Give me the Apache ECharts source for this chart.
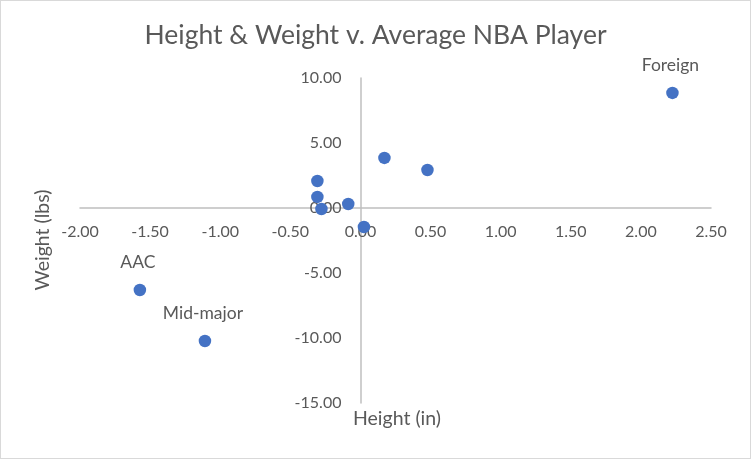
<!DOCTYPE html>
<html>
<head>
<meta charset="utf-8">
<script src="https://cdn.jsdelivr.net/npm/echarts@6/dist/echarts.min.js"></script>
<style>
html,body{margin:0;padding:0;background:#fff;}
#c{width:751px;height:459px;box-sizing:border-box;border:1px solid #d9d9d9;}
</style>
</head>
<body>
<div id="c"></div>
<script>
// Data
var heightDiff = [2.225, 0.171, 0.478, -0.307, -0.307, -0.278, -0.087, 0.025, -1.573, -1.109];
var weightDiff = [8.85, 3.85, 2.92, 2.08, 0.85, -0.08, 0.31, -1.46, -6.31, -10.23];
var pointNames = ['Foreign', '', '', '', '', '', '', '', 'AAC', 'Mid-major'];
var titleText = 'Height & Weight v. Average NBA Player';
var xTitle = 'Height (in)';
var yTitle = 'Weight (lbs)';

var FONT = 'Lato';
var TXT = '#595959';
var GRID = { left: 79, right: 39, top: 77, bottom: 55 };

var data = heightDiff.map(function (x, i) {
  var item = { value: [x, weightDiff[i]], name: pointNames[i] };
  if (pointNames[i]) {
    item.label = { show: true };
  }
  return item;
});

var fmt = function (v) { return v.toFixed(2); };

var chart = echarts.init(document.getElementById('c'));
chart.setOption({
  animation: false,
  title: {
    text: titleText,
    left: 'center',
    top: 16,
    textStyle: { fontFamily: FONT, fontSize: 26.5, fontWeight: 'normal', color: TXT }
  },
  grid: { left: GRID.left, right: GRID.right, top: GRID.top, bottom: GRID.bottom, containLabel: false },
  xAxis: {
    type: 'value',
    min: -2, max: 2.5, interval: 0.5,
    axisLine: { onZero: false, lineStyle: { color: '#bfbfbf', width: 1.5 } },
    axisTick: { show: false },
    splitLine: { show: false },
    axisLabel: { margin: 16, color: TXT, fontFamily: FONT, fontSize: 16, formatter: fmt, hideOverlap: false }
  },
  yAxis: {
    type: 'value',
    min: -15, max: 10, interval: 5,
    axisLine: { onZero: false, lineStyle: { color: '#bfbfbf', width: 1.5 } },
    axisTick: { show: false },
    splitLine: { show: false },
    axisLabel: { margin: 19, color: TXT, fontFamily: FONT, fontSize: 16, formatter: fmt, hideOverlap: false }
  },
  graphic: [
    {
      type: 'text', x: 396, y: 418,
      style: { text: xTitle, fill: TXT, font: '19.5px ' + FONT, textAlign: 'center', textVerticalAlign: 'middle' }
    },
    {
      type: 'text', x: 42, y: 239, rotation: Math.PI / 2,
      style: { text: yTitle, fill: TXT, font: '19.5px ' + FONT, textAlign: 'center', textVerticalAlign: 'middle' }
    }
  ],
  series: [{
    type: 'scatter',
    symbolSize: 12.5,
    itemStyle: { color: '#4472c4', opacity: 1 },
    label: {
      show: false, position: 'top', distance: 12,
      formatter: '{b}', color: TXT, fontFamily: FONT, fontSize: 17.5, offset: [-2, 0]
    },
    data: data
  }]
});

// Move the axes so they cross at the origin, using the library's own scales.
var origin = chart.convertToPixel({ gridIndex: 0 }, [0, 0]);
var H = 459 - 2;
var gridBottomY = H - GRID.bottom;
var gridLeftX = GRID.left;
chart.setOption({
  xAxis: { offset: -(gridBottomY - origin[1]) },
  yAxis: { offset: -(origin[0] - gridLeftX) }
});
</script>
</body>
</html>
